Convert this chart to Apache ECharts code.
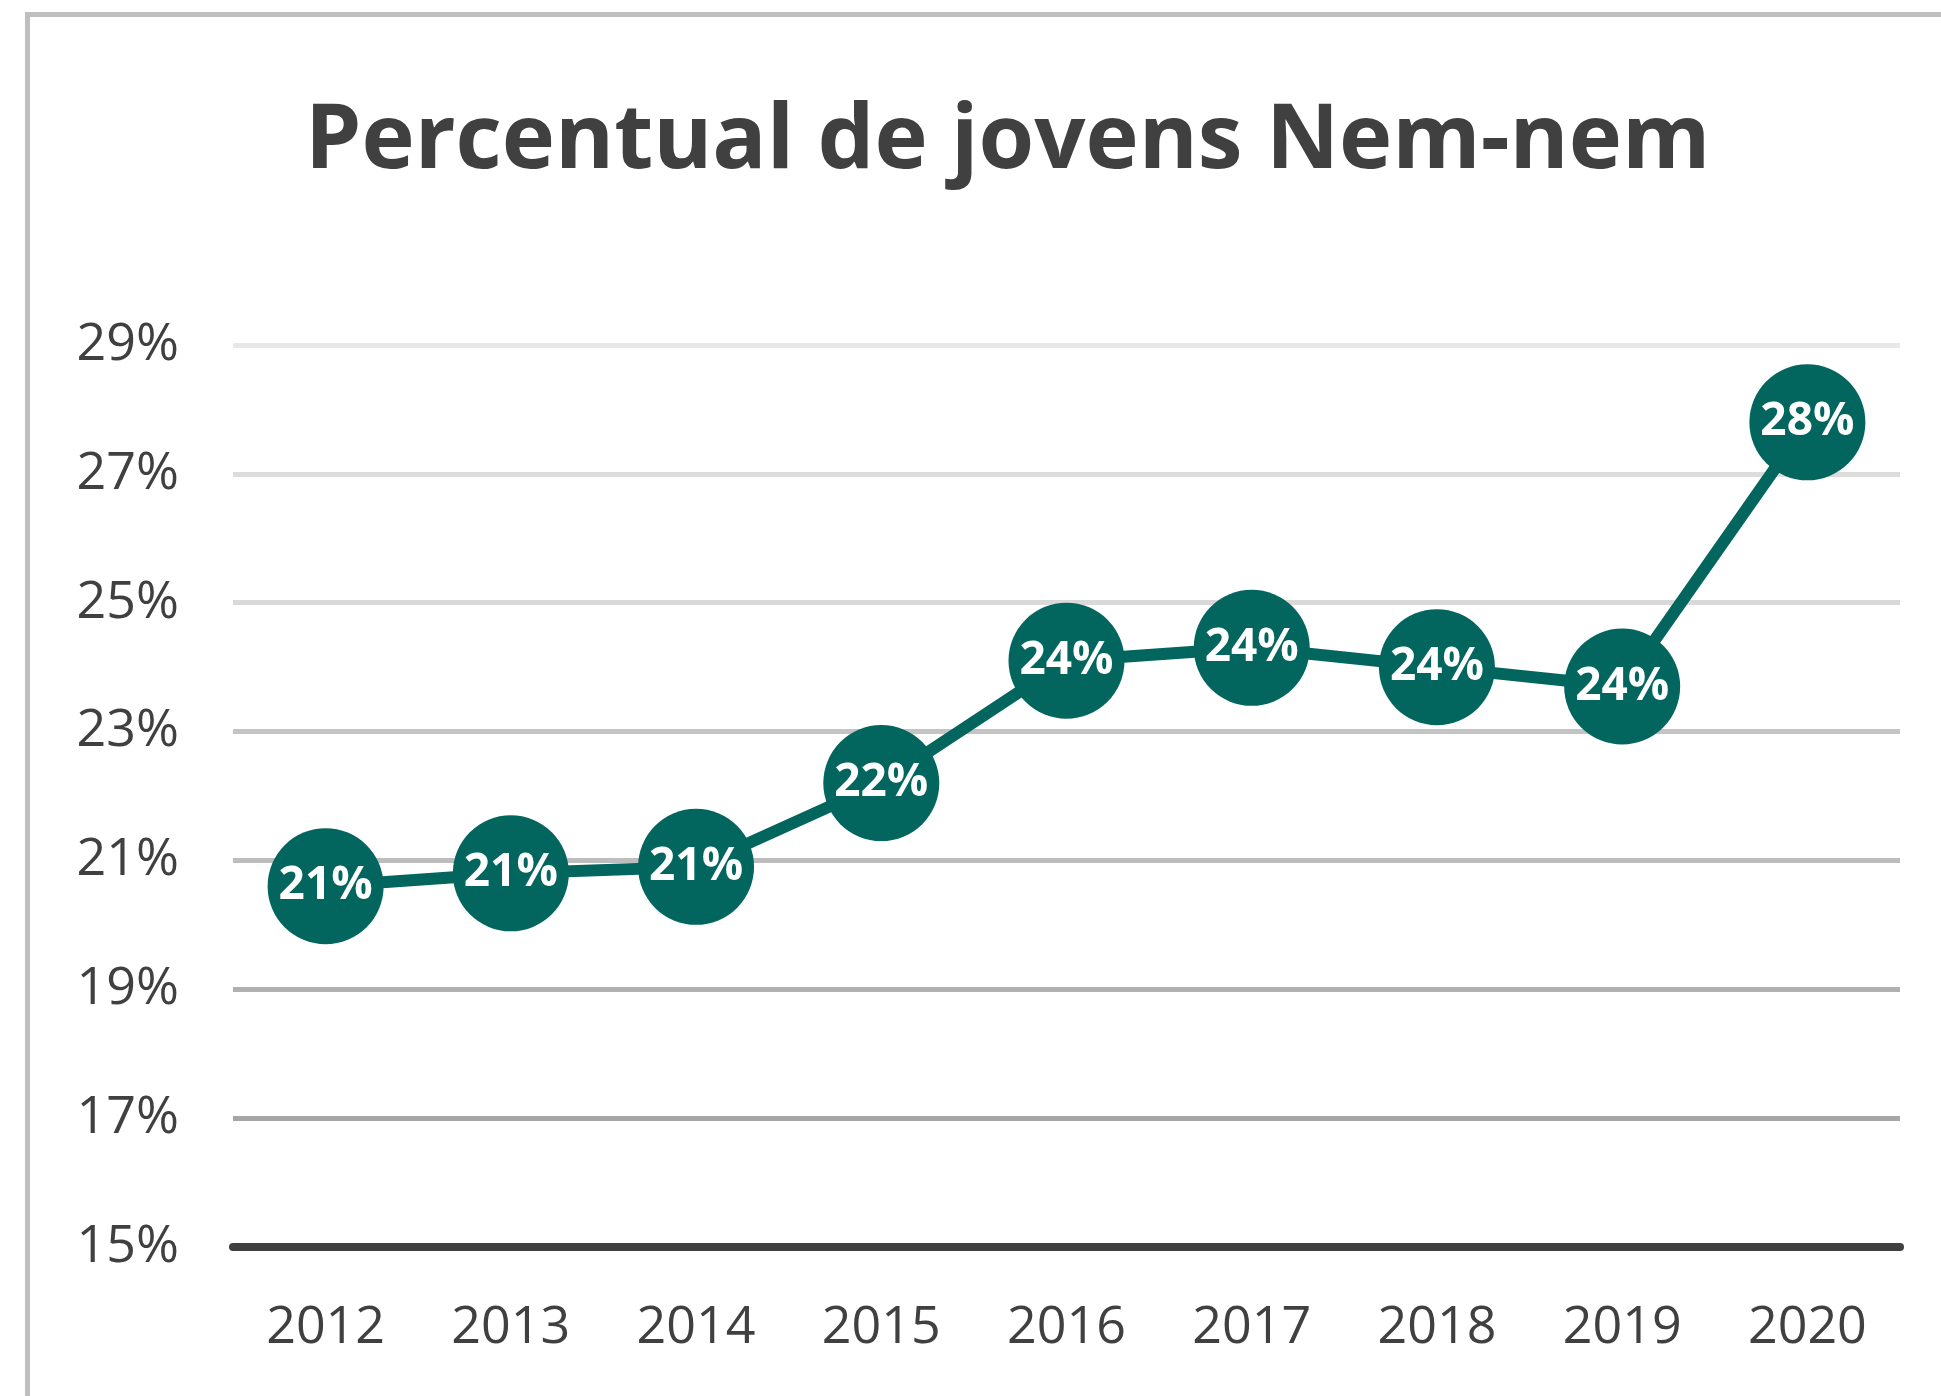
<!DOCTYPE html>
<html>
<head>
<meta charset="utf-8">
<script src="https://cdn.jsdelivr.net/npm/echarts@6/dist/echarts.min.js"></script>
<style>
  html, body { margin: 0; padding: 0; background: #fff; }
  #chart { width: 1941px; height: 1396px; }
</style>
</head>
<body>
<div id="chart"></div>
<script>
// dados (percentual)
const years = ['2012', '2013', '2014', '2015', '2016', '2017', '2018', '2019', '2020']
const nemNem = [20.6, 20.8, 20.9, 22.2, 24.1, 24.3, 24.0, 23.7, 27.8]
const yMin = 15
const yMax = 29
const yStep = 2

// cinzas das linhas de grade, de baixo (15%) para cima (29%)
const GRID_COLORS = ['#404040', '#a6a6a6', '#b0b0b0', '#bdbdbd', '#c4c4c4', '#d9d9d9', '#dcdcdc', '#e8e8e8']
const TEAL = '#02665f'
const FONT = 'Open Sans'

const chart = echarts.init(document.getElementById('chart'))

chart.setOption({
  backgroundColor: '#fff',
  animation: false,
  title: {
    text: 'Percentual de jovens Nem-nem',
    left: 300,
    top: 92,
    textStyle: { fontFamily: FONT, fontSize: 90, fontWeight: 'bold', color: '#404040' },
  },
  graphic: [
    {
      type: 'rect',
      shape: { x: 27.5, y: 14.5, width: 2100, height: 1600 },
      style: { fill: 'none', stroke: '#bfbfbf', lineWidth: 5 },
      silent: true,
    },
  ],
  grid: { left: 233, right: 41, top: 345, bottom: 149 },
  xAxis: {
    type: 'category',
    data: years,
    boundaryGap: true,
    axisLine: { show: true, lineStyle: { color: '#404040', width: 8 } },
    axisTick: { show: false },
    axisLabel: { margin: 55, fontFamily: FONT, fontSize: 52, color: '#404040' },
  },
  yAxis: {
    type: 'value',
    min: yMin,
    max: yMax,
    interval: yStep,
    axisLine: { show: false },
    axisTick: { show: false },
    axisLabel: {
      margin: 54,
      fontFamily: FONT,
      fontSize: 52,
      color: '#404040',
      formatter: (v) => v + '%',
    },
    splitLine: { lineStyle: { color: GRID_COLORS, width: 5 } },
  },
  series: [
    {
      type: 'line',
      data: nemNem,
      symbol: 'circle',
      symbolSize: 116,
      lineStyle: { color: TEAL, width: 12 },
      itemStyle: { color: TEAL },
      label: {
        show: true,
        position: 'inside',
        fontFamily: FONT,
        fontSize: 46,
        fontWeight: 'bold',
        color: '#fff',
        formatter: (p) => Math.round(p.value) + '%',
      },
    },
  ],
})
</script>
</body>
</html>
